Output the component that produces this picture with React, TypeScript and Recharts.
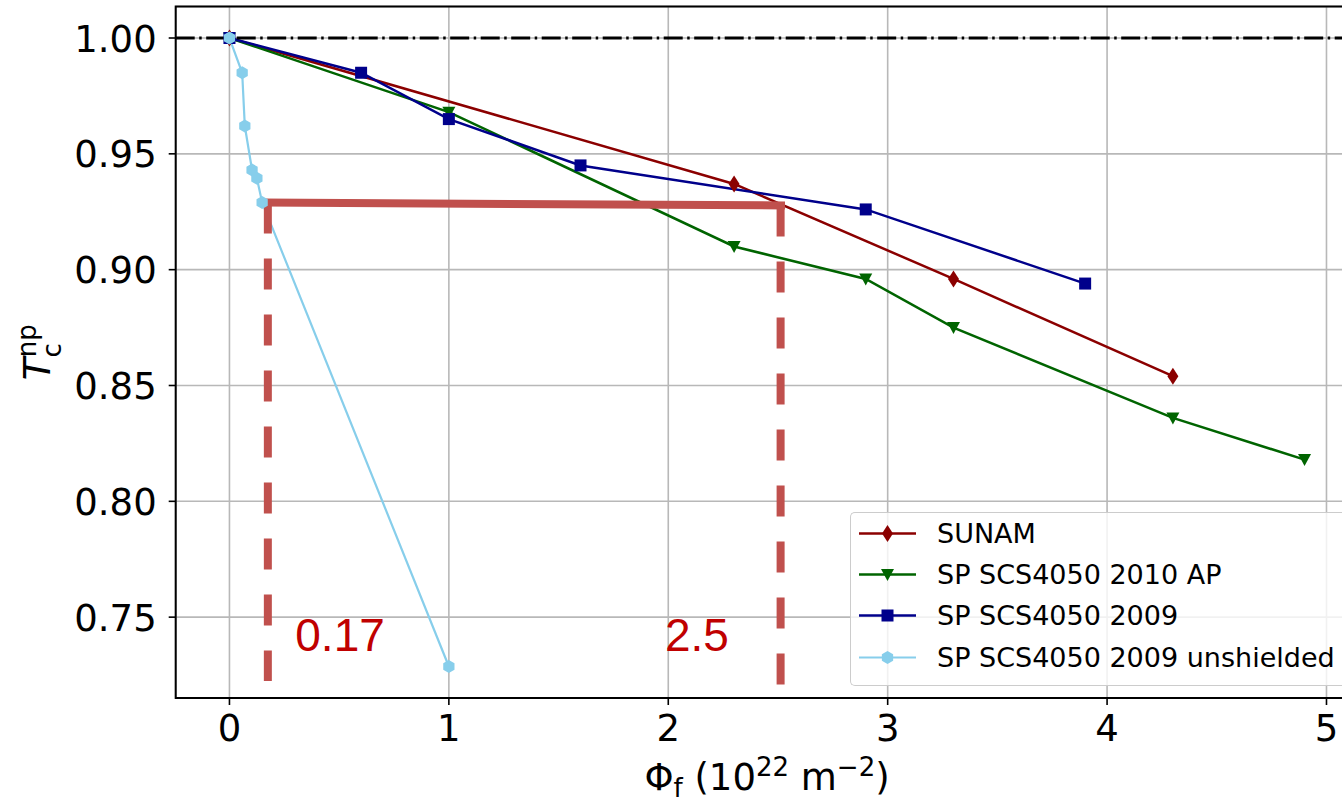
import React from 'react'
import {
  LineChart, Line, XAxis, YAxis, CartesianGrid,
  ReferenceLine, ReferenceArea, ReferenceDot,
} from 'recharts'

// fluence (1e22 m^-2) and normalised Tc for each tape
const sunamX = [0, 2.3, 3.3, 4.3]
const sunamY = [1.0, 0.937, 0.896, 0.854]
const apX = [0, 1, 2.3, 2.9, 3.3, 4.3, 4.9]
const apY = [1.0, 0.968, 0.910, 0.896, 0.875, 0.836, 0.818]
const sp09X = [0, 0.6, 1, 1.6, 2.9, 3.9]
const sp09Y = [1.0, 0.985, 0.965, 0.945, 0.926, 0.894]
const unshX = [0, 0.058, 0.07, 0.103, 0.125, 0.149, 1]
const unshY = [1.0, 0.985, 0.962, 0.943, 0.9395, 0.929, 0.7287]

const xTicks = [0, 1, 2, 3, 4, 5]
const yTicks = [0.75, 0.8, 0.85, 0.9, 0.95, 1.0]

// annotation: fluence where Tc drops to the same value
const annotY = [0.929, 0.9277]
const annotX = [0.15, 0.175, 2.512, 2.532]
const annotBottom = [0.7224, 0.7207]
const annotLabels = ['0.17', '2.5']
const annotLabelX = [0.30, 1.985]
const annotLabelY = 0.7352

const toPts = (xs: number[], ys: number[]) => xs.map((x, i) => ({ x, y: ys[i] }))

const series = [
  { name: 'SUNAM', data: toPts(sunamX, sunamY), color: '#8B0000', shape: 'diamond', width: 2.5 },
  { name: 'SP SCS4050 2010 AP', data: toPts(apX, apY), color: '#006400', shape: 'tri', width: 2.5 },
  { name: 'SP SCS4050 2009', data: toPts(sp09X, sp09Y), color: '#00008B', shape: 'square', width: 2.5 },
  { name: 'SP SCS4050 2009 unshielded', data: toPts(unshX, unshY), color: '#87CEEB', shape: 'hex', width: 2.2 },
]

const FONT = 'DejaVu Sans'
const RED = '#C0504D'

function Marker({ cx, cy, shape, color }: any) {
  if (cx == null || cy == null) return null
  if (shape === 'diamond') {
    return <polygon points={`${cx},${cy - 8.5} ${cx + 5.5},${cy} ${cx},${cy + 8.5} ${cx - 5.5},${cy}`} fill={color} />
  }
  if (shape === 'tri') {
    return <polygon points={`${cx - 6.5},${cy - 5.5} ${cx + 6.5},${cy - 5.5} ${cx},${cy + 6.5}`} fill={color} />
  }
  if (shape === 'square') {
    return <rect x={cx - 6} y={cy - 6} width={12} height={12} fill={color} />
  }
  const r = 6.5
  const pts = [0, 1, 2, 3, 4, 5].map(k => {
    const a = (Math.PI / 3) * k - Math.PI / 2
    return `${cx + r * Math.cos(a)},${cy + r * Math.sin(a)}`
  }).join(' ')
  return <polygon points={pts} fill={color} />
}

const XTick = ({ x, y, payload }: any) => (
  <text x={x} y={y + 27} textAnchor="middle" fontFamily={FONT} fontSize={37} fill="#000">
    {payload.value}
  </text>
)

const YTick = ({ x, y, payload }: any) => (
  <text x={x} y={y + 13.5} textAnchor="end" fontFamily={FONT} fontSize={37} fill="#000">
    {Number(payload.value).toFixed(2)}
  </text>
)

const XTitle = (props: any) => {
  const vb = props.viewBox || { x: 175.7, y: 698, width: 1182.6 }
  const cx = vb.x + vb.width / 2
  return (
    <text x={cx} y={vb.y + 92} textAnchor="middle" fontFamily={FONT} fontSize={37} fill="#000">
      Φ<tspan fontSize={26} dy={7}>f</tspan>
      <tspan dy={-7}> (10</tspan>
      <tspan fontSize={26} dy={-14}>22</tspan>
      <tspan dy={14}> m</tspan>
      <tspan fontSize={26} dy={-14}>−2</tspan>
      <tspan dy={14}>)</tspan>
    </text>
  )
}

const YTitle = (props: any) => {
  const vb = props.viewBox || { y: 6.5, height: 691.6 }
  const cy = vb.y + vb.height / 2
  const bx = 50
  return (
    <text x={bx} y={cy} transform={`rotate(-90, ${bx}, ${cy})`} textAnchor="middle" fontFamily={FONT} fontSize={37} fill="#000">
      <tspan fontStyle="italic">T</tspan>
      <tspan fontSize={26} dy={11}>c</tspan>
      <tspan fontSize={26} dx={-14} dy={-25}>np</tspan>
    </text>
  )
}

const AnnotText = (text: string) => (props: any) => {
  const vb = props.viewBox || {}
  const x = vb.cx ?? (vb.x + (vb.width || 0) / 2)
  const y = vb.cy ?? (vb.y + (vb.height || 0) / 2)
  return (
    <text x={x} y={y} fontFamily="Liberation Sans" fontSize={46} fill="#C00000">{text}</text>
  )
}

const LegendBox = () => (
  <div style={{
    position: 'absolute', left: 850, top: 511.7, zIndex: 2,
    border: '1.5px solid #cccccc', borderRight: 'none', borderRadius: '5px 0 0 5px',
    background: 'rgba(255,255,255,0.8)',
    width: 600, height: 174, boxSizing: 'border-box', fontFamily: FONT, fontSize: 27, color: '#000',
  }}>
    {series.map(s => (
      <div key={s.name} style={{ height: 41.3, display: 'flex', alignItems: 'center' }}>
        <svg width={80} height={41} style={{ flex: 'none' }}>
          <line x1={8} x2={65} y1={20.5} y2={20.5} stroke={s.color} strokeWidth={s.width} />
          <Marker cx={36.5} cy={20.5} shape={s.shape} color={s.color} />
        </svg>
        <span style={{ marginLeft: 6, whiteSpace: 'nowrap' }}>{s.name}</span>
      </div>
    ))}
  </div>
)

export default function App() {
  return (
    <div style={{ position: 'absolute', left: 0, top: 0, width: 1342, height: 806, overflow: 'hidden', background: '#fff' }}>
      <LineChart width={1400} height={806} margin={{ top: 6.5, right: 41.7, left: 0, bottom: 0 }}>
        <CartesianGrid stroke="#b8b8b8" strokeWidth={1.6} />
        <XAxis
          type="number" dataKey="x" domain={[-0.245, 5.145]} ticks={xTicks} allowDataOverflow
          height={108} axisLine={false} tickSize={7} tickMargin={9}
          tickLine={{ stroke: '#000', strokeWidth: 1.6 }} tick={<XTick />}
          label={XTitle}
        />
        <YAxis
          type="number" dataKey="y" domain={[0.7151, 1.0136]} ticks={yTicks} allowDataOverflow
          width={175.7} axisLine={false} tickSize={7} tickMargin={12}
          tickLine={{ stroke: '#000', strokeWidth: 1.6 }} tick={<YTick />}
          label={YTitle}
        />
        {series.map(s => (
          <Line
            key={s.name} data={s.data} dataKey="y" name={s.name} type="linear"
            stroke={s.color} strokeWidth={s.width} isAnimationActive={false}
            dot={(p: any) => <Marker key={`${s.name}-${p.index}`} cx={p.cx} cy={p.cy} shape={s.shape} color={s.color} />}
            activeDot={false}
          />
        ))}
        <ReferenceLine y={1} stroke="#000" strokeWidth={3} strokeDasharray="19 4.5 2.5 4.5" />
        <ReferenceArea x1={-0.245} x2={5.145} y1={0.7151} y2={1.0136} fill="none" stroke="#000" strokeWidth={2} fillOpacity={0} />
        <ReferenceLine
          segment={[{ x: annotX[0], y: annotY[0] }, { x: annotX[3], y: annotY[1] }]}
          stroke={RED} strokeWidth={8}
        />
        <ReferenceLine
          segment={[{ x: annotX[1], y: annotY[0] }, { x: annotX[1], y: annotBottom[0] }]}
          stroke={RED} strokeWidth={8} strokeDasharray="31 25"
        />
        <ReferenceLine
          segment={[{ x: annotX[2], y: annotY[1] }, { x: annotX[2], y: annotBottom[1] }]}
          stroke={RED} strokeWidth={8} strokeDasharray="31 25"
        />
        {annotLabels.map((t, i) => (
          <ReferenceDot key={t} x={annotLabelX[i]} y={annotLabelY} r={0.01} fill="none" stroke="none" label={AnnotText(t)} />
        ))}
      </LineChart>
      <LegendBox />
    </div>
  )
}
